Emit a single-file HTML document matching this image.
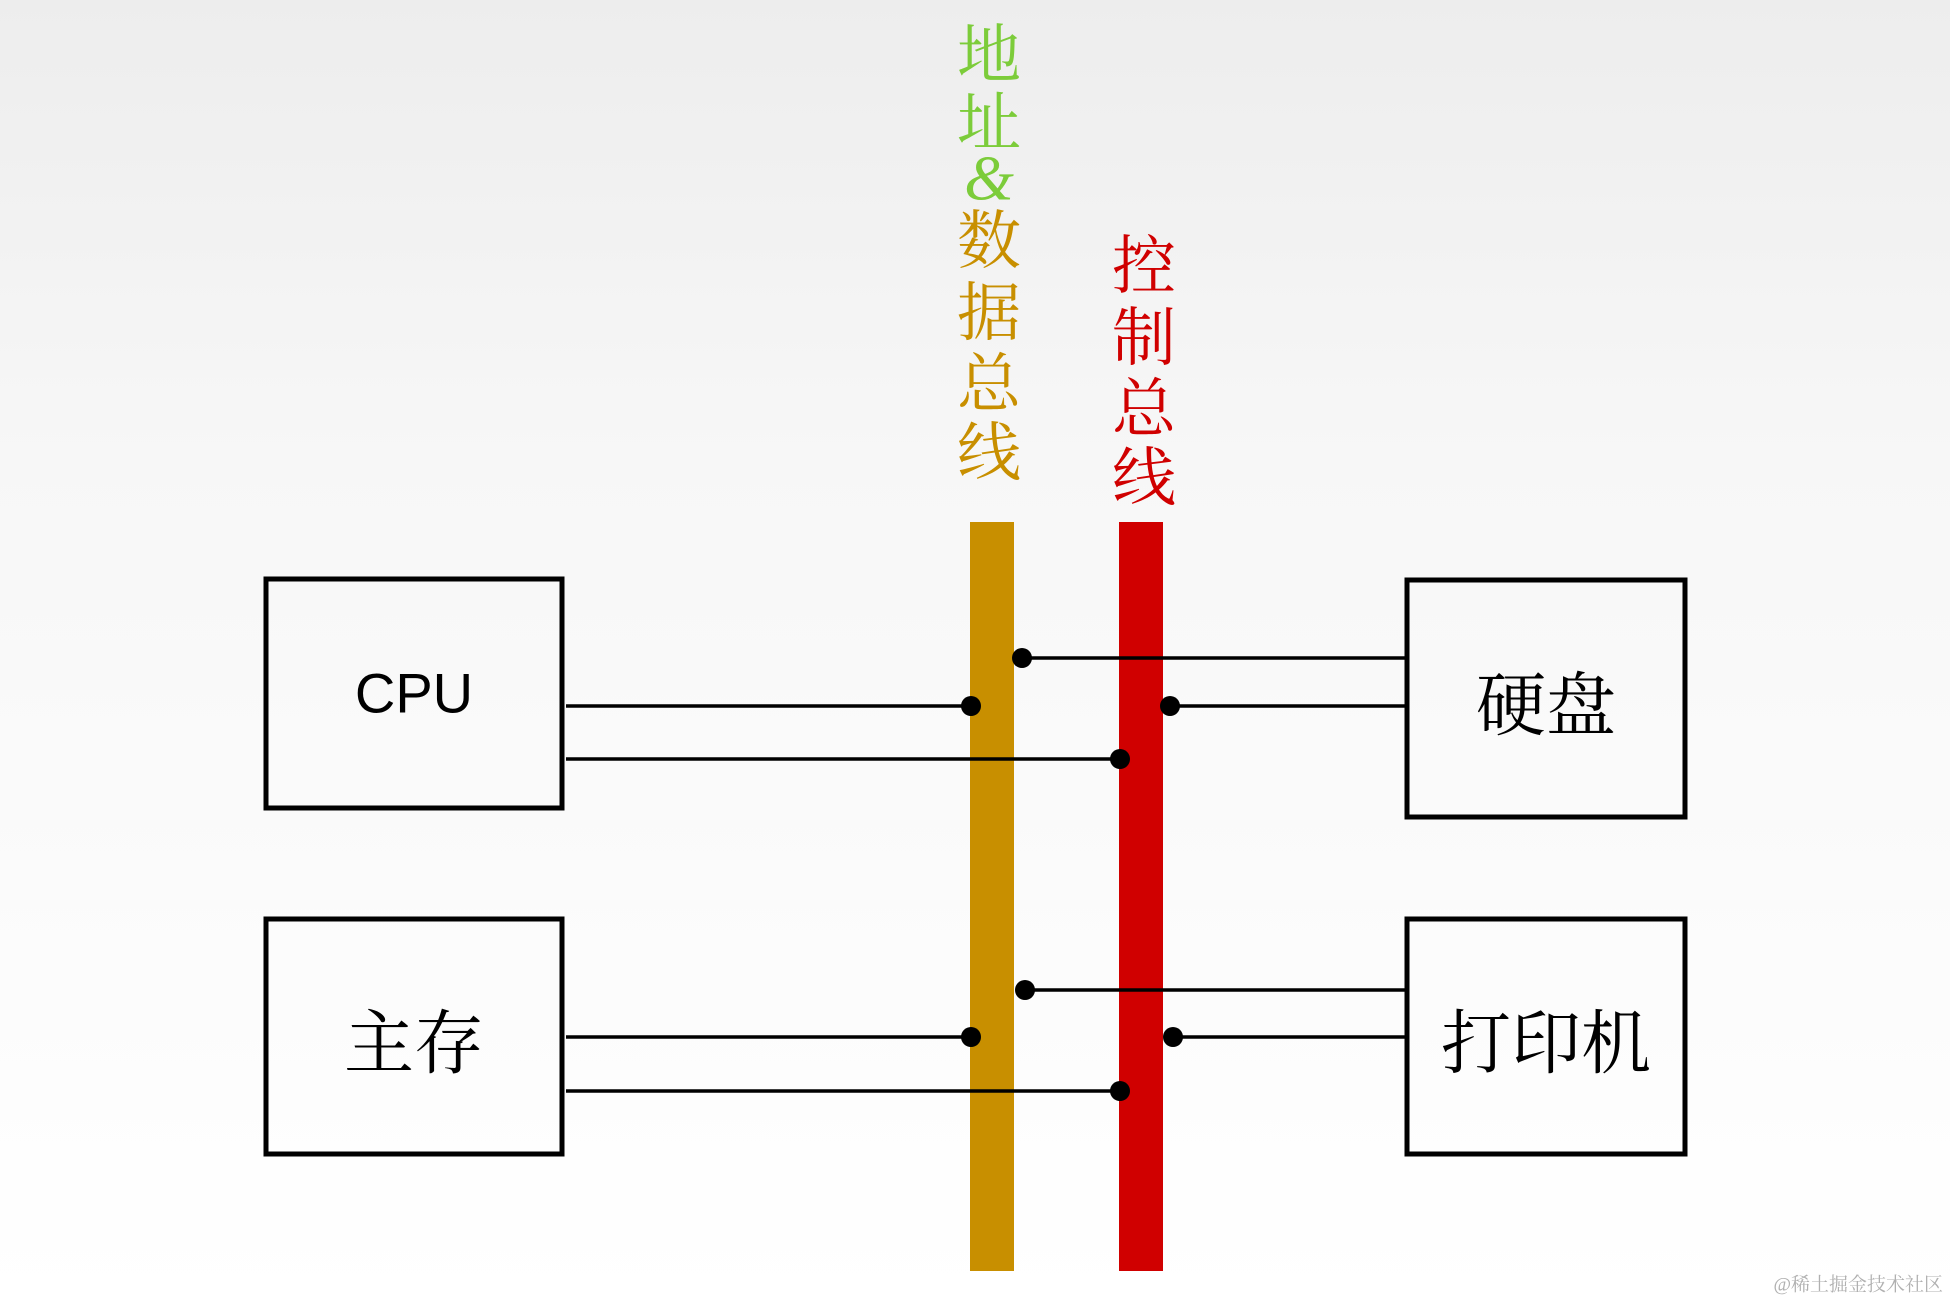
<!DOCTYPE html>
<html><head><meta charset="utf-8"><style>
html,body{margin:0;padding:0;}
body{width:1950px;height:1302px;overflow:hidden;background:linear-gradient(#ededed 0%,#f7f7f7 35%,#ffffff 100%);}
svg{display:block}
</style></head><body>
<svg width="1950" height="1302" xmlns="http://www.w3.org/2000/svg">
<g fill="none" stroke="#000" stroke-width="5">
<rect x="266" y="579" width="296" height="229"/>
<rect x="266" y="919" width="296" height="235"/>
<rect x="1407" y="580" width="278" height="237"/>
<rect x="1407" y="919" width="278" height="235"/>
</g>
<rect x="970" y="522" width="44" height="749" fill="#c88f00"/>
<rect x="1119" y="522" width="44" height="749" fill="#d00000"/>
<g stroke="#000" stroke-width="3.5">
<line x1="566" y1="706" x2="971" y2="706"/>
<line x1="566" y1="759" x2="1120" y2="759"/>
<line x1="1022" y1="658" x2="1407" y2="658"/>
<line x1="1170" y1="706" x2="1407" y2="706"/>
<line x1="566" y1="1037" x2="971" y2="1037"/>
<line x1="566" y1="1091" x2="1120" y2="1091"/>
<line x1="1025" y1="990" x2="1407" y2="990"/>
<line x1="1173" y1="1037" x2="1407" y2="1037"/>
</g>
<g fill="#000">
<circle cx="971" cy="706" r="10"/><circle cx="1120" cy="759" r="10"/>
<circle cx="1022" cy="658" r="10"/><circle cx="1170" cy="706" r="10"/>
<circle cx="971" cy="1037" r="10"/><circle cx="1120" cy="1091" r="10"/>
<circle cx="1025" cy="990" r="10"/><circle cx="1173" cy="1037" r="10"/>
</g>
<g font-family="'Noto Serif CJK SC',serif" font-size="64" text-anchor="middle" dominant-baseline="central">
<text x="989" y="50" fill="#7ccc3a">地</text>
<text x="989" y="118" fill="#7ccc3a">址</text>
<text x="989" y="178" fill="#7ccc3a" font-family="'Liberation Serif',serif" font-style="italic">&amp;</text>
<text x="989" y="236" fill="#c88f00">数</text>
<text x="989" y="308" fill="#c88f00">据</text>
<text x="989" y="379" fill="#c88f00">总</text>
<text x="989" y="448" fill="#c88f00">线</text>
<text x="1144" y="261" fill="#d00000">控</text>
<text x="1144" y="333" fill="#d00000">制</text>
<text x="1144" y="404" fill="#d00000">总</text>
<text x="1144" y="473" fill="#d00000">线</text>
</g>
<g text-anchor="middle" dominant-baseline="central" fill="#000">
<text x="414" y="693" font-family="'Liberation Sans','DejaVu Sans',sans-serif" font-size="56">CPU</text>
<text x="1546" y="700" font-family="'Noto Serif CJK SC',serif" font-size="70">硬盘</text>
<text x="414" y="1038" font-family="'Noto Serif CJK SC',serif" font-size="70">主存</text>
<text x="1546" y="1038" font-family="'Noto Serif CJK SC',serif" font-size="70">打印机</text>
</g>
<text x="1943" y="1285" text-anchor="end" dominant-baseline="central" font-family="'Liberation Serif','Noto Serif CJK SC',serif" font-size="19" fill="#b0b0b0">@稀土掘金技术社区</text>
</svg>
</body></html>
